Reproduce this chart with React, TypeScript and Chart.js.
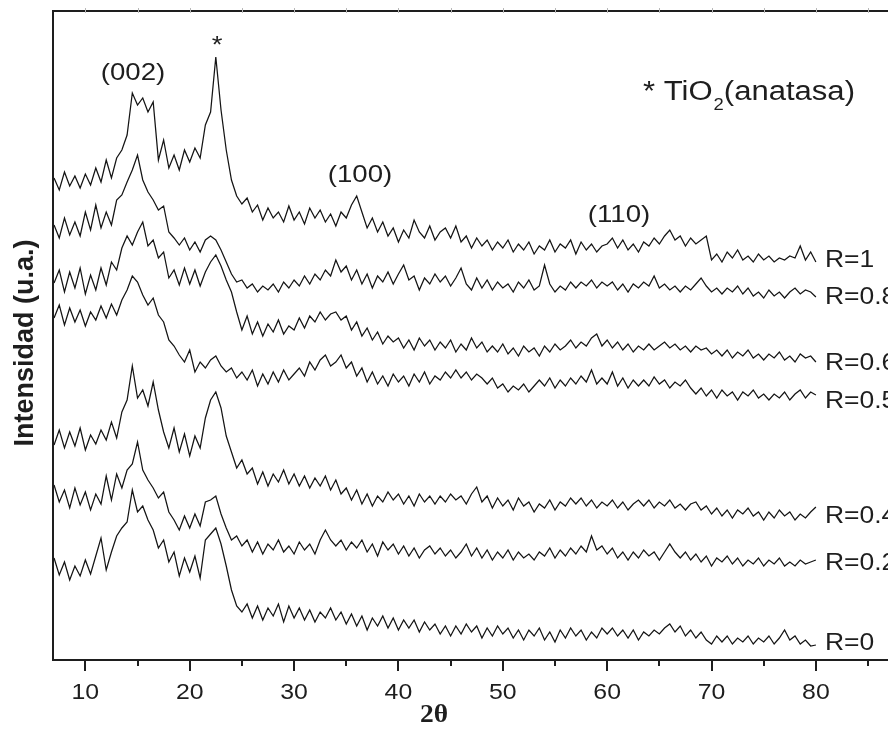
import React, { useEffect, useRef } from "react";
import { Chart, registerables } from "chart.js";

Chart.register(...registerables);

// 2θ measurement grid (degrees), 7.0 → 80.0 in 0.5° steps
const THETA: number[] = [];
for (let i = 0; i <= 146; i++) THETA.push(7 + i * 0.5);

const X_MAJOR_TICKS = [10, 20, 30, 40, 50, 60, 70, 80, 90];
const X_MINOR_TICKS = [15, 25, 35, 45, 55, 65, 75, 85];
const X_TICK_LABELS = ["10", "20", "30", "40", "50", "60", "70", "80", "90"];

const SERIES_LABELS = ["R=1", "R=0.8", "R=0.6", "R=0.5", "R=0.4", "R=0.2", "R=0"];

// stacked intensities (u.a.)
const R_1 = [
  482, 470, 488, 474, 484, 472,
  486, 475, 492, 478, 500, 482, 502, 510, 525, 567, 555, 562, 548, 558, 500, 520, 492, 505, 490, 510,
  498, 512, 502, 535, 548, 603, 550, 510, 480, 464, 456, 462, 448, 455, 440, 452, 442, 448, 438, 454,
  440, 448, 436, 452, 442, 450, 438, 446, 434, 448, 442, 455, 464, 448, 432, 442, 428, 438, 424, 432,
  418, 430, 422, 440, 428, 422, 434, 420, 428, 432, 422, 434, 418, 424, 412, 422, 414, 420, 410, 418,
  412, 420, 408, 416, 410, 418, 406, 414, 410, 420, 408, 416, 412, 420, 406, 418, 410, 416, 408, 414,
  416, 422, 412, 420, 410, 416, 408, 418, 414, 422, 416, 424, 430, 420, 424, 414, 422, 416, 420, 424,
  400, 406, 398, 408, 402, 410, 400, 404, 398, 406, 400, 404, 398, 402, 400, 404, 402, 414, 400, 408,
  398,
];
const R_08 = [
  435, 422, 442, 425, 438, 424,
  448, 430, 455, 432, 448, 435, 460, 465, 478, 490, 505, 480, 468, 460, 450, 454, 428, 422, 415, 422,
  410, 418, 408, 420, 424, 420, 410, 398, 386, 378, 380, 372, 376, 368, 374, 370, 376, 368, 378, 372,
  380, 374, 384, 376, 386, 380, 390, 384, 400, 388, 394, 380, 390, 376, 386, 372, 384, 378, 388, 376,
  386, 395, 380, 384, 370, 382, 376, 386, 378, 384, 374, 382, 392, 376, 370, 382, 372, 380, 370, 378,
  372, 376, 368, 378, 372, 380, 370, 374, 395, 376, 368, 374, 370, 378, 372, 378, 374, 380, 372, 378,
  374, 378, 370, 376, 368, 376, 372, 378, 374, 384, 372, 376, 370, 374, 368, 374, 370, 376, 382, 374,
  368, 372, 366, 372, 368, 374, 366, 372, 364, 368, 362, 370, 364, 368, 362, 368, 372, 366, 370, 368,
  363,
];
const R_06 = [
  377, 390, 368, 388, 372, 392,
  366, 385, 370, 392, 375, 398, 390, 412, 424, 415, 428, 438, 414, 420, 402, 408, 382, 390, 375, 392,
  376, 390, 374, 388, 398, 405, 394, 380, 368, 348, 330, 344, 326, 338, 324, 336, 328, 340, 326, 334,
  330, 342, 332, 344, 338, 348, 340, 346, 348, 340, 344, 330, 338, 324, 332, 320, 328, 316, 324, 318,
  322, 312, 320, 310, 322, 314, 320, 310, 318, 312, 320, 308, 316, 310, 322, 312, 318, 308, 314, 308,
  316, 306, 312, 304, 314, 308, 312, 304, 314, 308, 316, 310, 314, 320, 312, 318, 314, 322, 326, 314,
  320, 312, 318, 310, 316, 308, 314, 310, 316, 310, 314, 318, 312, 316, 310, 314, 308, 314, 310, 312,
  306, 310, 304, 310, 302, 308, 304, 310, 302, 306, 300, 306, 302, 308, 300, 304, 298, 306, 302, 304,
  298,
];
const R_05 = [
  342, 355, 335, 352, 338, 350,
  334, 348, 340, 354, 342, 356, 345, 360, 370, 384, 378, 365, 355, 362, 345, 338, 320, 314, 305, 298,
  310, 288, 298, 292, 300, 304, 294, 288, 292, 282, 288, 280, 290, 274, 286, 276, 288, 278, 290, 280,
  286, 292, 284, 298, 290, 300, 305, 294, 298, 305, 292, 298, 284, 292, 278, 288, 276, 284, 274, 286,
  278, 284, 274, 286, 278, 288, 276, 284, 280, 288, 282, 290, 282, 288, 280, 286, 282, 276, 282, 272,
  276, 268, 274, 270, 276, 268, 274, 280, 274, 282, 272, 280, 274, 282, 276, 284, 278, 290, 276, 282,
  276, 288, 274, 282, 272, 280, 274, 280, 274, 283, 276, 280, 272, 278, 274, 280, 272, 266, 272, 264,
  270, 262, 270, 264, 268, 260, 268, 264, 270, 262, 266, 260, 266, 262, 268, 260, 266, 270, 262, 268,
  265,
];
const R_04 = [
  215, 230, 212, 228, 214, 232,
  210, 225, 216, 230, 220, 238, 222, 248, 260, 294, 262, 270, 254, 278, 250, 228, 212, 232, 208, 226,
  204, 224, 212, 242, 260, 268, 252, 224, 208, 192, 200, 186, 192, 176, 188, 174, 186, 178, 190, 176,
  186, 174, 184, 172, 182, 174, 184, 170, 180, 166, 172, 160, 170, 156, 166, 154, 164, 158, 168, 160,
  166, 156, 164, 154, 166, 158, 164, 156, 164, 158, 166, 160, 164, 156, 166, 173, 158, 164, 152, 162,
  154, 160, 150, 162, 154, 158, 148, 156, 152, 160, 150, 158, 154, 162, 156, 162, 154, 160, 152, 158,
  154, 160, 152, 158, 150, 156, 160, 154, 160, 152, 158, 154, 160, 152, 156, 150, 156, 158, 150, 154,
  146, 152, 144, 150, 142, 150, 146, 152, 144, 148, 140, 148, 142, 150, 144, 148, 140, 146, 142, 148,
  153,
];
const R_02 = [
  175, 158, 170, 152, 172, 155,
  168, 150, 166, 156, 184, 160, 186, 172, 190, 196, 218, 190, 180, 172, 162, 168, 148, 140, 130, 144,
  132, 146, 134, 158, 160, 164, 146, 132, 120, 124, 114, 120, 108, 118, 106, 116, 110, 120, 108, 114,
  106, 118, 110, 116, 106, 120, 130, 120, 114, 120, 110, 118, 112, 120, 108, 116, 104, 118, 110, 116,
  106, 114, 104, 112, 102, 110, 114, 106, 112, 104, 110, 102, 108, 116, 104, 112, 102, 110, 100, 108,
  102, 110, 100, 108, 102, 106, 100, 108, 104, 112, 102, 110, 104, 112, 106, 114, 108, 124, 110, 114,
  106, 112, 102, 108, 100, 108, 102, 110, 104, 108, 100, 108, 116, 108, 102, 108, 100, 106, 98, 104,
  94, 102, 98, 104, 96, 102, 94, 100, 96, 102, 94, 100, 96, 102, 94, 98, 94, 100, 96, 98,
  100,
];
const R_0 = [
  102, 85, 98, 80, 94, 84,
  100, 86, 104, 122, 90, 108, 124, 132, 138, 170, 148, 154, 140, 130, 112, 120, 98, 108, 84, 102,
  88, 104, 82, 120, 126, 132, 116, 94, 70, 54, 48, 56, 42, 54, 40, 52, 44, 56, 38, 54,
  42, 52, 40, 50, 38, 48, 42, 52, 40, 48, 36, 46, 34, 44, 30, 42, 34, 44, 32, 42,
  30, 40, 32, 40, 28, 38, 30, 36, 26, 34, 24, 34, 26, 36, 28, 34, 22, 32, 24, 34,
  26, 32, 22, 30, 20, 30, 24, 32, 20, 28, 18, 30, 22, 32, 24, 30, 20, 28, 22, 32,
  26, 32, 24, 30, 22, 30, 20, 28, 24, 30, 26, 32, 36, 28, 34, 24, 30, 22, 28, 20,
  16, 24, 18, 24, 16, 22, 18, 24, 16, 22, 18, 24, 16, 22, 30, 20, 24, 16, 20, 14,
  15,
];

const SERIES = [R_1, R_08, R_06, R_05, R_04, R_02, R_0];

const SANS = '"Liberation Sans", Arial, Helvetica, sans-serif';
const SERIF = '"Liberation Serif", "Times New Roman", serif';
const SX = 1.15; // horizontal stretch of the original figure's lettering

function wideText(
  ctx: CanvasRenderingContext2D,
  text: string,
  x: number,
  y: number,
  font: string,
  align: CanvasTextAlign,
  sx = SX
): number {
  ctx.save();
  ctx.font = font;
  ctx.textAlign = align;
  ctx.textBaseline = "alphabetic";
  ctx.translate(x, y);
  ctx.scale(sx, 1);
  ctx.fillText(text, 0, 0);
  const w = ctx.measureText(text).width * sx;
  ctx.restore();
  return w;
}

const decorPlugin = {
  id: "decor",
  afterDraw(chart: any) {
    const { ctx, chartArea: a, scales } = chart;
    const xs = scales.x;
    const W = chart.width;
    ctx.save();
    ctx.strokeStyle = "#1e1e1e";
    ctx.fillStyle = "#1e1e1e";
    ctx.lineWidth = 2;
    ctx.beginPath();
    ctx.moveTo(a.left - 1, a.top);
    ctx.lineTo(W, a.top);
    ctx.moveTo(a.left, a.top - 1);
    ctx.lineTo(a.left, a.bottom + 1);
    ctx.moveTo(a.left - 1, a.bottom);
    ctx.lineTo(W, a.bottom);
    ctx.stroke();

    // bottom ticks (outward)
    ctx.beginPath();
    X_MAJOR_TICKS.forEach((v) => {
      const px = Math.round(xs.getPixelForValue(v));
      ctx.moveTo(px, a.bottom);
      ctx.lineTo(px, a.bottom + 11);
    });
    X_MINOR_TICKS.forEach((v) => {
      const px = Math.round(xs.getPixelForValue(v));
      ctx.moveTo(px, a.bottom);
      ctx.lineTo(px, a.bottom + 6);
    });
    ctx.stroke();

    // faint top ticks
    ctx.strokeStyle = "#b8b8b8";
    ctx.lineWidth = 1;
    ctx.beginPath();
    [...X_MAJOR_TICKS, ...X_MINOR_TICKS].forEach((v) => {
      const px = Math.round(xs.getPixelForValue(v)) + 0.5;
      ctx.moveTo(px, a.top - 3);
      ctx.lineTo(px, a.top + 2);
    });
    ctx.stroke();

    // tick labels
    X_MAJOR_TICKS.forEach((v, i) => {
      const px = xs.getPixelForValue(v);
      wideText(ctx, X_TICK_LABELS[i], px, a.bottom + 39, `22px ${SANS}`, "center", 1.13);
    });

    // axis titles
    ctx.save();
    ctx.font = `bold 25px ${SERIF}`;
    ctx.textAlign = "center";
    ctx.textBaseline = "alphabetic";
    ctx.translate(434, 722);
    ctx.scale(1.1, 1);
    ctx.fillText("2θ", 0, 0);
    ctx.restore();

    ctx.save();
    ctx.font = `bold 27px ${SANS}`;
    ctx.textAlign = "center";
    ctx.textBaseline = "alphabetic";
    ctx.translate(33, 343);
    ctx.rotate(-Math.PI / 2);
    ctx.fillText("Intensidad (u.a.)", 0, 0);
    ctx.restore();

    // peak annotations
    wideText(ctx, "(002)", 133, 80, `24px ${SANS}`, "center");
    wideText(ctx, "*", 217, 53, `24px ${SANS}`, "center");
    wideText(ctx, "(100)", 360, 182, `24px ${SANS}`, "center");
    wideText(ctx, "(110)", 619, 222, `24px ${SANS}`, "center");

    let tx = 643;
    tx += wideText(ctx, "* TiO", tx, 100, `27px ${SANS}`, "left");
    tx += wideText(ctx, "2", tx + 1, 110, `16px ${SANS}`, "left") + 1;
    wideText(ctx, "(anatasa)", tx, 100, `27px ${SANS}`, "left");

    // series labels
    const baselines = [267, 304, 370, 408, 523, 570, 650];
    const lx = xs.getPixelForValue(80) + 9;
    SERIES_LABELS.forEach((lab, i) => {
      wideText(ctx, lab, lx, baselines[i], `23px ${SANS}`, "left");
    });
    ctx.restore();
  },
};

export default function App() {
  const ref = useRef<HTMLCanvasElement | null>(null);

  useEffect(() => {
    if (!ref.current) return;
    const datasets = SERIES.map((vals, i) => ({
      label: SERIES_LABELS[i],
      data: vals.map((v, j) => ({ x: THETA[j], y: v })),
      borderColor: "#141414",
      borderWidth: 1.25,
      pointRadius: 0,
      tension: 0,
      fill: false,
    }));
    const chart = new Chart(ref.current, {
      type: "line",
      data: { datasets },
      options: {
        responsive: false,
        animation: false,
        devicePixelRatio: 1,
        layout: { padding: { left: 53, top: 11, right: 38, bottom: 89 } },
        plugins: { legend: { display: false }, tooltip: { enabled: false } },
        events: [],
        scales: {
          x: { type: "linear", min: 6.9, max: 94, display: false },
          y: { type: "linear", min: 0, max: 649, display: false },
        },
      },
      plugins: [decorPlugin],
    } as any);
    return () => chart.destroy();
  }, []);

  return (
    <div
      style={{
        position: "absolute",
        left: 0,
        top: 0,
        width: 888,
        height: 749,
        overflow: "hidden",
        background: "#fff",
      }}
    >
      <canvas ref={ref} width={1000} height={749} style={{ width: 1000, height: 749, display: "block" }} />
    </div>
  );
}
